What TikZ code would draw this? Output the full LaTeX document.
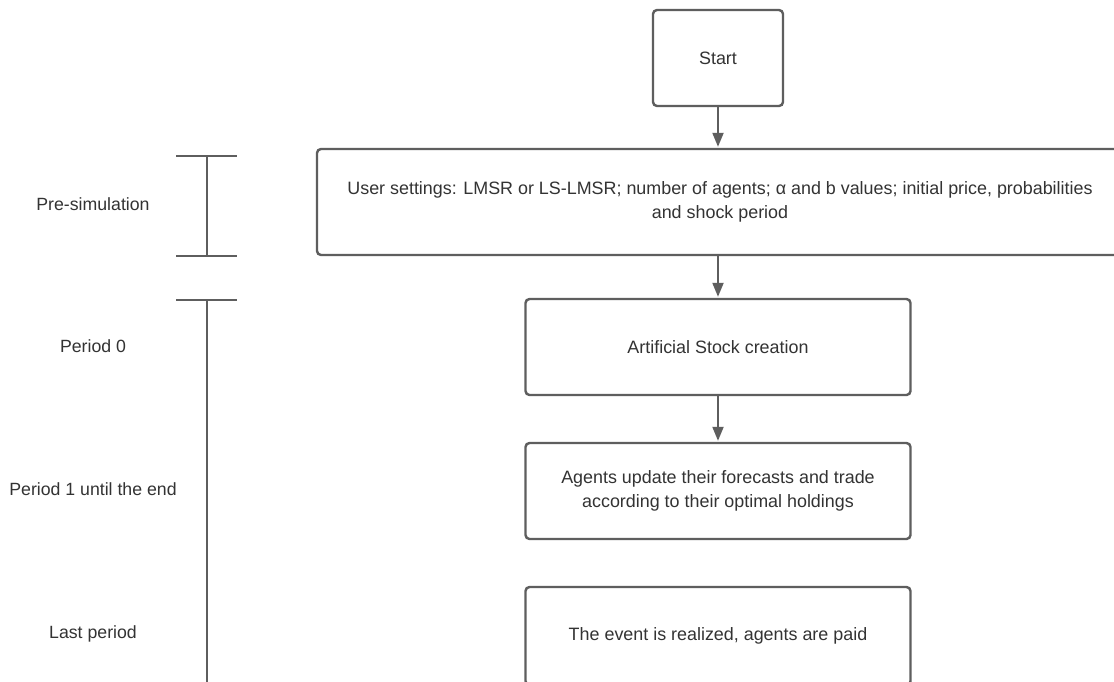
\documentclass[tikz,border=0pt]{standalone}
\usepackage{fontspec}
\setmainfont{Liberation Sans}
\usetikzlibrary{arrows.meta}
\definecolor{linegray}{HTML}{5E5E5E}
\definecolor{textgray}{HTML}{333333}
\tikzset{
  flowbox/.style={draw=linegray, line width=2.4pt, rounded corners=4pt, fill=white,
    text=textgray, align=center, inner sep=0pt,
    font=\fontsize{17.9}{24}\selectfont},
  flowarrow/.style={draw=linegray, line width=2pt,
    -{Triangle[length=14pt,width=11pt]}, shorten >=1pt},
  barline/.style={draw=linegray, line width=2.4pt},
  phaselabel/.style={text=textgray, font=\fontsize{17.7}{24}\selectfont, inner sep=0pt}
}
\begin{document}
\begin{tikzpicture}[x=1pt,y=-1pt]
\useasboundingbox (0,0) rectangle (1114,681);
\clip (0,0) rectangle (1114,681);
\fill[white] (0,0) rectangle (1114,681);

% flow boxes
\node[flowbox, minimum width=130pt, minimum height=96pt] (start) at (718,58) {Start};
\node[flowbox, minimum width=806pt, minimum height=106pt] (settings) at (720,202)
  {User settings: LMSR or LS-LMSR; number of agents; α and b values; initial price, probabilities\\and shock period};
\node[flowbox, minimum width=385pt, minimum height=96pt] (stock) at (718,347) {Artificial Stock creation};
\node[flowbox, minimum width=385pt, minimum height=96pt] (agents) at (718,491)
  {Agents update their forecasts and trade\\according to their optimal holdings};
\node[flowbox, minimum width=385pt, minimum height=98pt] (last) at (718,636) {The event is realized, agents are paid};

% connectors
\draw[flowarrow] (start.south) -- (start.south |- settings.north);
\draw[flowarrow] (start.south |- settings.south) -- (start.south |- stock.north);
\draw[flowarrow] (stock.south) -- (agents.north);

% phase bars
\coordinate (b1top) at (207,156);
\coordinate (b1bot) at (207,256);
\coordinate (b2top) at (207,300);
\coordinate (b2bot) at (207,690);
\draw[barline] ([xshift=-31pt]b1top) -- ([xshift=30pt]b1top);
\draw[barline] (b1top) -- (b1bot);
\draw[barline] ([xshift=-31pt]b1bot) -- ([xshift=30pt]b1bot);
\draw[barline] ([xshift=-31pt]b2top) -- ([xshift=30pt]b2top);
\draw[barline] (b2top) -- (b2bot);

% phase labels
\node[phaselabel] (lpre) at (93,204) {Pre-simulation};
\node[phaselabel] (lp0) at (93,346) {Period 0};
\node[phaselabel] (lp1) at (93,489) {Period 1 until the end};
\node[phaselabel] (llast) at (93,634) {Last period};
\end{tikzpicture}
\end{document}
